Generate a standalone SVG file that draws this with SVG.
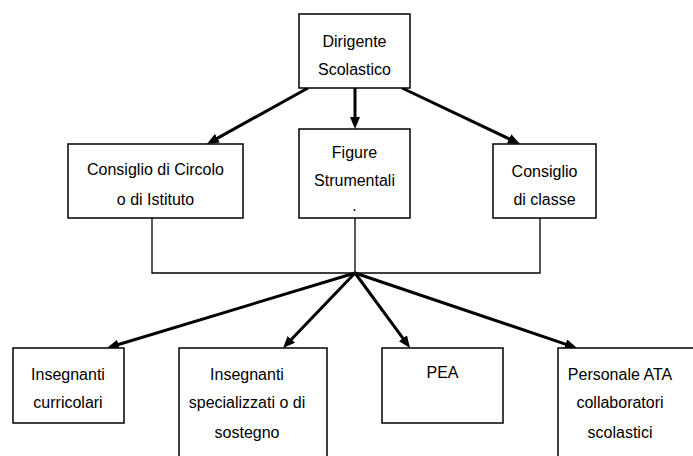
<svg xmlns="http://www.w3.org/2000/svg" width="693" height="456" viewBox="0 0 693 456">
<style>
.box{fill:#fff;stroke:#000;stroke-width:1.5}
.t{font-family:"Liberation Sans",Arial,sans-serif;font-size:16px;fill:#000;text-anchor:middle}
.thin{fill:none;stroke:#000;stroke-width:1.3}
.arr{fill:none;stroke:#000;stroke-width:3;marker-end:url(#ah)}
</style>
<defs>
<marker id="ah" markerUnits="userSpaceOnUse" markerWidth="12" markerHeight="10" refX="6" refY="5" orient="auto">
<path d="M0,0 L12,5 L0,10 z" fill="#000"/>
</marker>
</defs>
<rect width="693" height="456" fill="#fff"/>
<g id="connectors">
<path class="thin" d="M152,218 V273 H540 V218 M355,218 V273"/>
<line class="arr" x1="308" y1="88" x2="212.2" y2="141.1"/>
<line class="arr" x1="355" y1="88" x2="355" y2="123"/>
<line class="arr" x1="402" y1="88" x2="514.6" y2="141.4"/>
<line class="arr" x1="355" y1="273" x2="112.7" y2="346.3"/>
<line class="arr" x1="355" y1="273" x2="287.2" y2="343.7"/>
<line class="arr" x1="355" y1="273" x2="406.5" y2="343.2"/>
<line class="arr" x1="355" y1="273" x2="571.3" y2="346.1"/>
</g>
<g id="dirigente">
<rect class="box" x="299" y="14" width="111" height="74"/>
<text class="t" x="354.5" y="47">Dirigente</text>
<text class="t" x="354.5" y="75">Scolastico</text>
</g>
<g id="consiglio-circolo">
<rect class="box" x="68" y="144" width="175" height="74"/>
<text class="t" x="155.5" y="175">Consiglio di Circolo</text>
<text class="t" x="155.5" y="205">o di Istituto</text>
</g>
<g id="figure-strumentali">
<rect class="box" x="299" y="129" width="111" height="89"/>
<text class="t" x="354.5" y="158">Figure</text>
<text class="t" x="354.5" y="186">Strumentali</text>
<text class="t" x="354.5" y="211">.</text>
</g>
<g id="consiglio-classe">
<rect class="box" x="493" y="144" width="103" height="74"/>
<text class="t" x="544.5" y="177">Consiglio</text>
<text class="t" x="544.5" y="205">di classe</text>
</g>
<g id="insegnanti-curricolari">
<rect class="box" x="13" y="348" width="111" height="75"/>
<text class="t" x="68" y="380">Insegnanti</text>
<text class="t" x="68" y="408">curricolari</text>
</g>
<g id="insegnanti-specializzati">
<rect class="box" x="179" y="348" width="148" height="120"/>
<text class="t" x="247" y="380">Insegnanti</text>
<text class="t" x="247" y="408">specializzati o di</text>
<text class="t" x="247" y="438">sostegno</text>
</g>
<g id="pea">
<rect class="box" x="382" y="348" width="121" height="75"/>
<text class="t" x="442.5" y="378">PEA</text>
</g>
<g id="personale-ata">
<rect class="box" x="558" y="348" width="150" height="120"/>
<text class="t" x="620" y="380">Personale ATA</text>
<text class="t" x="620" y="408">collaboratori</text>
<text class="t" x="620" y="438">scolastici</text>
</g>
</svg>
